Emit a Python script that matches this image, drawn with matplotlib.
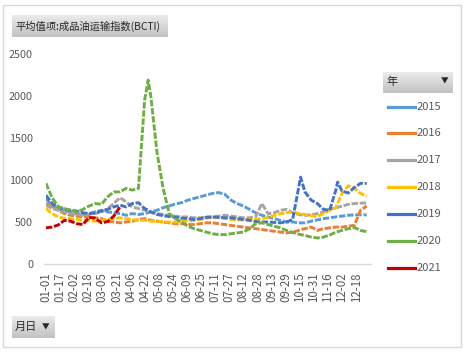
import numpy as np
import pandas as pd
import matplotlib
matplotlib.use("Agg")
import matplotlib.pyplot as plt
from matplotlib.lines import Line2D
from matplotlib.patches import Rectangle
from matplotlib.colors import LinearSegmentedColormap

plt.rcParams['font.family'] = ['Noto Sans CJK SC', 'DejaVu Sans']

W, H = 465, 352

# ---------------- data ----------------
categories = list(pd.date_range('2020-01-01', '2020-12-31').strftime('%m-%d'))
tick_step = 16
years = ['2015', '2016', '2017', '2018', '2019', '2020', '2021']

sample_days = [0, 7, 14, 21, 28, 35, 42, 49, 56, 63, 70, 77, 84, 91, 98, 105, 112, 116,
               119, 126, 133, 140, 147, 154, 161, 168, 175, 182, 189, 196, 203, 210, 217,
               224, 231, 238, 245, 252, 259, 266, 273, 280, 287, 289, 294, 301, 308, 315,
               322, 329, 331, 336, 343, 350, 357, 364]

v2015 = [780, 690, 650, 640, 620, 600, 590, 600, 620, 640, 620, 610, 600, 580, 600, 590, 600, 610,
         620, 640, 670, 690, 715, 730, 760, 780, 800, 820, 840, 850, 830, 760, 720,
         690, 650, 610, 580, 560, 540, 520, 500, 500, 490, 490, 490, 510, 525, 540,
         550, 560, 565, 570, 580, 585, 585, 585]
v2016 = [720, 680, 640, 600, 580, 570, 560, 560, 550, 540, 510, 500, 490, 500, 510, 530, 540, 530,
         520, 510, 500, 490, 480, 480, 470, 470, 480, 490, 490, 480, 470, 460, 450,
         440, 430, 420, 410, 400, 390, 380, 370, 380, 400, 410, 420, 440, 400, 420,
         430, 440, 440, 440, 450, 460, 640, 690]
v2017 = [700, 660, 640, 620, 600, 590, 580, 590, 600, 620, 660, 720, 790, 740, 680, 660, 640, 630,
         620, 600, 590, 580, 570, 560, 560, 550, 550, 560, 560, 570, 580, 570, 560,
         550, 550, 560, 720, 600, 610, 640, 650, 610, 590, 585, 580, 585, 600, 620,
         650, 670, 675, 690, 710, 720, 725, 725]
v2018 = [660, 600, 560, 545, 540, 530, 520, 520, 510, 520, 530, 540, 550, 540, 530, 520, 520, 515,
         510, 510, 500, 500, 500, 505, 510, 520, 530, 545, 555, 555, 545, 530, 525,
         525, 525, 530, 540, 555, 575, 600, 610, 620, 600, 595, 590, 575, 565, 600,
         640, 670, 720, 840, 930, 900, 840, 810]
v2019 = [820, 720, 680, 650, 640, 630, 610, 600, 610, 630, 650, 680, 700, 680, 720, 730, 660, 640,
         620, 590, 575, 565, 555, 545, 540, 530, 540, 555, 560, 555, 550, 550, 540,
         530, 520, 505, 500, 500, 495, 490, 500, 530, 920, 1035, 857, 760, 720, 650,
         640, 880, 975, 870, 845, 910, 960, 960]
v2020 = [960, 790, 680, 660, 640, 620, 650, 690, 720, 710, 800, 857, 860, 900, 880, 900, 1950, 2190,
         2000, 1330, 900, 600, 540, 500, 450, 420, 400, 380, 360, 350, 350, 360, 370,
         380, 420, 480, 490, 470, 450, 430, 400, 375, 355, 350, 340, 320, 310, 320,
         345, 380, 385, 400, 420, 435, 400, 385]
v2021 = [430, 440, 465, 520, 510, 480, 470, 555, 545, 490, 505, 570, 680] + \
        [np.nan] * (len(sample_days) - 13)

series = [v2015, v2016, v2017, v2018, v2019, v2020, v2021]
colors = ['#5B9BD5', '#ED7D31', '#A5A5A5', '#FFC000', '#4472C4', '#70AD47', '#C00000']

# ---------------- figure ----------------
fig = plt.figure(figsize=(W / 100, H / 100), dpi=100)
fig.patch.set_facecolor('white')

def fx(px):
    return px / W

def fy(py):
    return 1 - py / H

# outer frame
fig.patches.append(Rectangle((fx(3), fy(347)), fx(461) - fx(3), fy(5) - fy(347),
                             transform=fig.transFigure, fill=False,
                             edgecolor='#D9D9D9', lw=1.0))

ax = fig.add_axes([fx(45.5), fy(264), fx(368) - fx(45.5), fy(54) - fy(264)])
ax.set_facecolor('white')
for s in ax.spines.values():
    s.set_visible(False)

lw = 2.1
for vals, c in zip(series, colors):
    ax.plot(sample_days, vals, color=c, lw=lw, linestyle=(0, (2.2, 0.6)),
            solid_capstyle='butt', dash_capstyle='butt')

ax.set_xlim(-0.5, len(categories) - 0.5)
ax.set_ylim(0, 2500)
ax.axhline(0, color='#D9D9D9', lw=1.0, zorder=0, xmin=-0.005, xmax=1.01, clip_on=False)

tick_idx = list(range(0, len(categories), tick_step))
ax.set_xticks(tick_idx)
ax.set_xticklabels([categories[i] for i in tick_idx], rotation=90, fontsize=8.3,
                   color='#595959')
ax.set_yticks(np.arange(0, 2501, 500))
ax.set_yticklabels([str(v) for v in range(0, 2501, 500)], fontsize=7.8, color='#595959')
ax.tick_params(axis='both', length=0)
ax.tick_params(axis='y', pad=9)
ax.tick_params(axis='x', pad=6)

# gradient buttons
grad = np.linspace(0, 1, 64).reshape(-1, 1)
cmap_btn = LinearSegmentedColormap.from_list('btn', ['#EBEBEB', '#C2C2C2'])

def button(x0, y0, x1, y1):
    bax = fig.add_axes([fx(x0), fy(y1), fx(x1) - fx(x0), fy(y0) - fy(y1)])
    bax.imshow(grad, aspect='auto', cmap=cmap_btn, extent=[0, 1, 0, 1], origin='upper')
    bax.set_axis_off()
    return bax

button(12, 15, 167, 37)
fig.text(fx(15), fy(26), '平均值项:成品油运输指数(BCTI)', fontsize=7.4, color='#262626',
         va='center', ha='left')

button(12, 316, 54, 338)
fig.text(fx(15), fy(327), '月日', fontsize=8, color='#262626', va='center', ha='left')
fig.text(fx(42), fy(327), '▼', fontsize=5.5, color='#262626', va='center', ha='left')

button(383, 72, 452, 93)
fig.text(fx(386), fy(82), '年', fontsize=8, color='#262626', va='center', ha='left')
fig.text(fx(441), fy(82), '▼', fontsize=5.5, color='#262626', va='center', ha='left')

# legend entries
leg_y = [107, 133, 160, 187, 214, 241, 268]
for yr, c, ly in zip(years, colors, leg_y):
    fig.add_artist(Line2D([fx(388), fx(415)], [fy(ly), fy(ly)], color=c, lw=2.3,
                          transform=fig.transFigure))
    fig.text(fx(417), fy(ly), yr, fontsize=8, color='#595959', va='center', ha='left')

fig.savefig('out.png', dpi=100, facecolor='white')
